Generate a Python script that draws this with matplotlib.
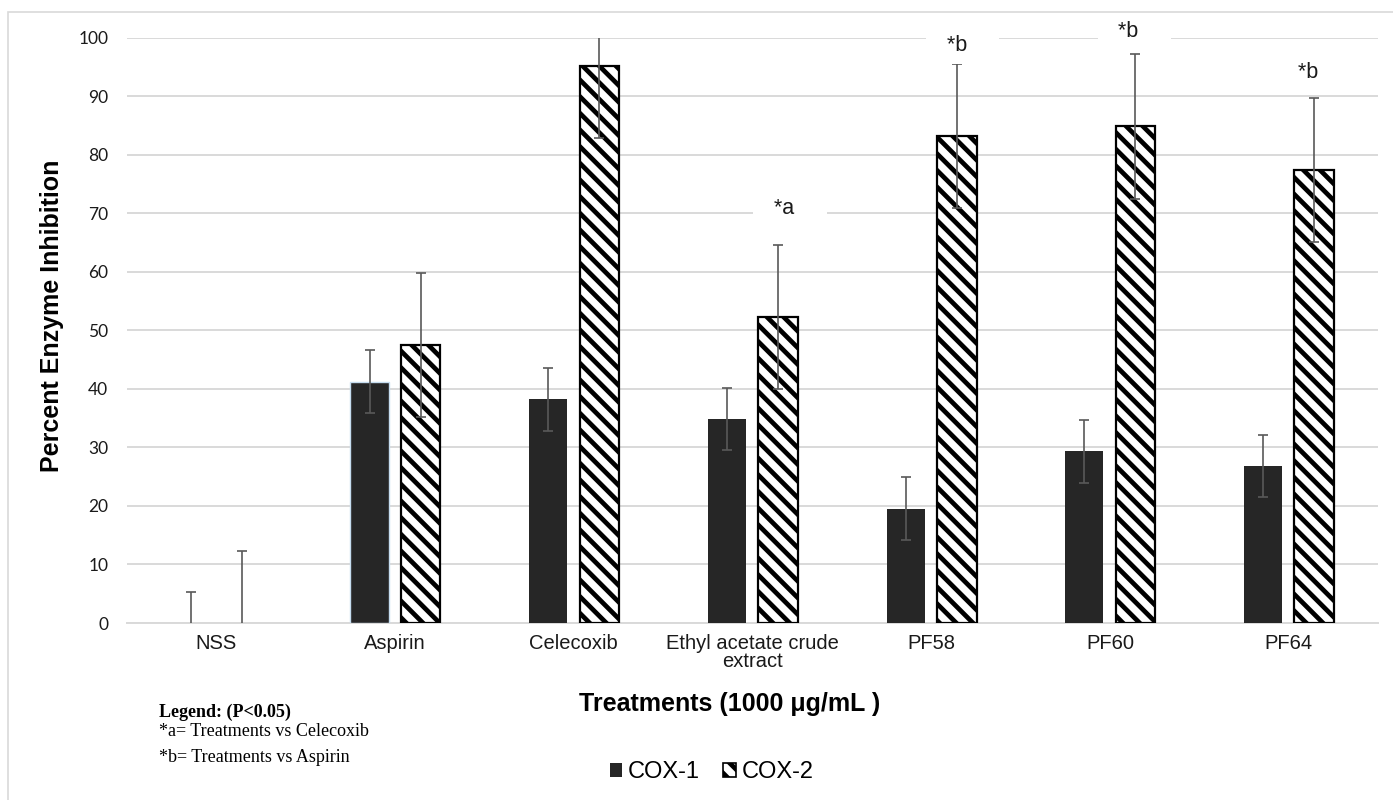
import matplotlib
matplotlib.use('Agg')
import matplotlib.pyplot as plt
import numpy as np
from matplotlib.patches import Rectangle

# ---- data ----
categories = ['NSS', 'Aspirin', 'Celecoxib', 'Ethyl acetate crude\nextract', 'PF58', 'PF60', 'PF64']
cox1 = [0.0, 41.2, 38.2, 34.9, 19.5, 29.3, 26.8]
cox1_err = [5.3, 5.4, 5.4, 5.3, 5.4, 5.4, 5.3]
cox2 = [0.0, 47.4, 95.2, 52.2, 83.2, 84.8, 77.4]
cox2_err = [12.3, 12.3, 12.4, 12.3, 12.3, 12.3, 12.3]
sig_labels = ['', '', '', '*a', '*b', '*b', '*b']
yticks = [0, 10, 20, 30, 40, 50, 60, 70, 80, 90, 100]
series_names = ['COX-1', 'COX-2']
legend_lines = ['Legend: (P<0.05)', '*a= Treatments vs Celecoxib', '*b= Treatments vs Aspirin']

# ---- layout / style ----
W, H = 1393, 800
DPI = 100
plt.rcParams['hatch.linewidth'] = 3.4
fig = plt.figure(figsize=(W / DPI, H / DPI), dpi=DPI)
fig.patch.set_facecolor('white')

def fx(px):
    return px / W

def fy(py):
    return 1 - py / H

ax_left, ax_right, ax_top, ax_bottom = 127, 1378, 37.5, 623
ax = fig.add_axes([fx(ax_left), fy(ax_bottom), fx(ax_right - ax_left), (ax_bottom - ax_top) / H])

x = np.arange(len(categories))
off = 0.143
w1, w2 = 0.213, 0.222
grid_col = '#d9d9d9'
err_col = '#595959'

edge1 = ['none'] * len(categories)
edge1[1] = '#c5dcef'
b1 = ax.bar(x - off, cox1, w1, color='#262626', edgecolor=edge1, linewidth=1.0,
            label=series_names[0], zorder=3)
b2 = ax.bar(x + off, cox2, w2, color='white', edgecolor='black', linewidth=1.6,
            hatch='\\\\', label=series_names[1], zorder=3)
# NSS has zero height -> hide its outline
b2.patches[0].set_linewidth(0)
b1.patches[0].set_linewidth(0)

ekw = dict(fmt='none', ecolor=err_col, elinewidth=1.2, capsize=3.6, capthick=1.2, zorder=4)
ax.errorbar(x - off, cox1, yerr=cox1_err, **ekw)
ax.errorbar(x + off, cox2, yerr=cox2_err, **ekw)

ax.set_xlim(-0.5, len(categories) - 0.5)
ax.set_ylim(0, 100)
ax.set_yticks(yticks)
ax.yaxis.grid(True, color=grid_col, linewidth=1.4, zorder=0)
ax.set_axisbelow(True)
for s in ['top', 'right', 'left']:
    ax.spines[s].set_visible(False)
ax.spines['bottom'].set_color(grid_col)
ax.spines['bottom'].set_linewidth(1.4)
ax.tick_params(axis='both', length=0)
ax.tick_params(axis='y', pad=13.5)
ax.tick_params(axis='x', pad=8)
ax.set_xticks(x)
ax.set_xticklabels(categories, fontsize=14.5, family='Liberation Sans', color='#1a1a1a',
                   linespacing=0.95, va='top')
for t in ax.get_yticklabels():
    t.set_family('Lato')
    t.set_fontsize(12.5)
    t.set_color('#1a1a1a')

# significance labels (placement offsets in points: dx, dy)
sig_offsets = {3: (8.6, 26.6), 4: (4.3, 13.3), 5: (-0.7, 16.3), 6: (0.0, 17.9)}
for i, lab in enumerate(sig_labels):
    if not lab:
        continue
    dx, dy = sig_offsets[i]
    ax.annotate('  ' + lab + '    ', xy=(x[i] + off, cox2[i] + cox2_err[i]),
                xytext=(dx, dy), textcoords='offset points', ha='center', va='center',
                fontsize=15.5, family='Liberation Sans', color='#1a1a1a',
                bbox=dict(boxstyle='square,pad=0.4', fc='white', ec='none'),
                annotation_clip=False, zorder=6)

# axis titles
fig.text(fx(52), fy(315.5), 'Percent Enzyme Inhibition', rotation=90, ha='center', va='center',
         fontsize=18, fontweight='bold', family='Liberation Sans', color='black')
fig.text(fx(730), fy(704), 'Treatments (1000 \u03bcg/mL )', ha='center', va='center',
         fontsize=18, fontweight='bold', family='Liberation Sans', color='black')

# significance legend text
fig.text(fx(159), fy(717), legend_lines[0], ha='left', va='baseline', fontsize=13,
         fontweight='bold', family='Liberation Serif', color='black')
fig.text(fx(159), fy(736), legend_lines[1], ha='left', va='baseline', fontsize=13,
         family='Liberation Serif', color='black')
fig.text(fx(159), fy(762), legend_lines[2], ha='left', va='baseline', fontsize=13,
         family='Liberation Serif', color='black')

# series legend
leg = fig.legend(handles=[b1, b2], labels=series_names, loc='center',
                 bbox_to_anchor=(fx(711.5), fy(772)), ncol=2, frameon=False,
                 prop={'family': 'Liberation Sans', 'size': 17},
                 handlelength=0.52, handleheight=0.52, handletextpad=0.25,
                 columnspacing=1.0, borderpad=0.2)
for h in leg.legend_handles:
    h.set_linewidth(1.2)

# outer chart border
fig.add_artist(Rectangle((fx(8), -0.1), 1.2, fy(12) + 0.1, transform=fig.transFigure,
                         fill=False, edgecolor=grid_col, linewidth=1.2, zorder=-1))

fig.savefig('out.png', dpi=DPI, facecolor='white')
